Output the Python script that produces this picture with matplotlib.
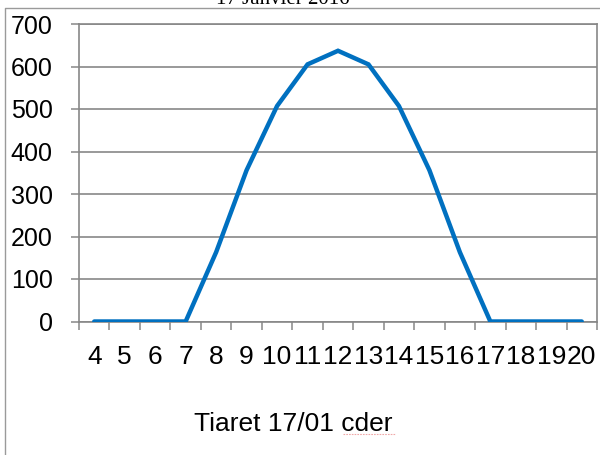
import numpy as np
import matplotlib
matplotlib.use('Agg')
import matplotlib.pyplot as plt
from matplotlib.lines import Line2D

hours = [4, 5, 6, 7, 8, 9, 10, 11, 12, 13, 14, 15, 16, 17, 18, 19, 20]
power = [0, 0, 0, 0, 163, 356, 507, 605, 637, 605, 507, 356, 163, 0, 0, 0, 0]
y_ticks = [0, 100, 200, 300, 400, 500, 600, 700]

title = "17 Janvier 2016"
caption = "Tiaret 17/01 cder"

grey = '#878787'

fig = plt.figure(figsize=(6, 4.55), dpi=100)
ax = fig.add_axes([79 / 600, 1 - 321.5 / 455, 518 / 600, 297.5 / 455])

pos = np.arange(len(hours))
ax.plot(pos, power, color='#0070C0', lw=3.2, solid_capstyle='round',
        solid_joinstyle='miter', zorder=3)

ax.set_xlim(-0.5, len(hours) - 0.5)
ax.set_ylim(0, 700)

# category labels in the middle, tick marks between categories
ax.set_xticks(pos)
ax.set_xticklabels([str(h) for h in hours])
ax.set_xticks(np.arange(len(hours) + 1) - 0.5, minor=True)
ax.tick_params(axis='x', which='major', length=0, pad=17,
               labelsize=19, labelcolor='black')
ax.tick_params(axis='x', which='minor', length=6, width=1.1,
               color=grey, direction='out')

ax.set_yticks(y_ticks)
ax.tick_params(axis='y', length=6, width=1.1, color=grey,
               direction='out', pad=13, labelsize=18, labelcolor='black')

for lab in ax.get_xticklabels() + ax.get_yticklabels():
    lab.set_family('Liberation Sans')

ax.grid(axis='y', color=grey, lw=1.2)
ax.set_axisbelow(True)
for s in ax.spines.values():
    s.set_color(grey)
    s.set_linewidth(1.2)

# outer chart frame
fig.add_artist(Line2D([5 / 600, 5 / 600, 1], [0, 1 - 8 / 455, 1 - 8 / 455],
                      transform=fig.transFigure, color='#9a9a9a', lw=1))

fig.text(283 / 600, 1 - 4 / 455, title, ha='center', va='baseline',
         family='Liberation Serif', fontsize=15)
fig.text(293 / 600, 1 - 431 / 455, caption, ha='center', va='baseline',
         family='Liberation Sans', fontsize=19)
# spell-check underline
fig.add_artist(Line2D([343 / 600, 395 / 600], [1 - 433.5 / 455, 1 - 433.5 / 455],
                      transform=fig.transFigure, color='#f0a8a8', lw=0.8,
                      ls=(0, (1.5, 1))))

fig.savefig('out.png', dpi=100)
